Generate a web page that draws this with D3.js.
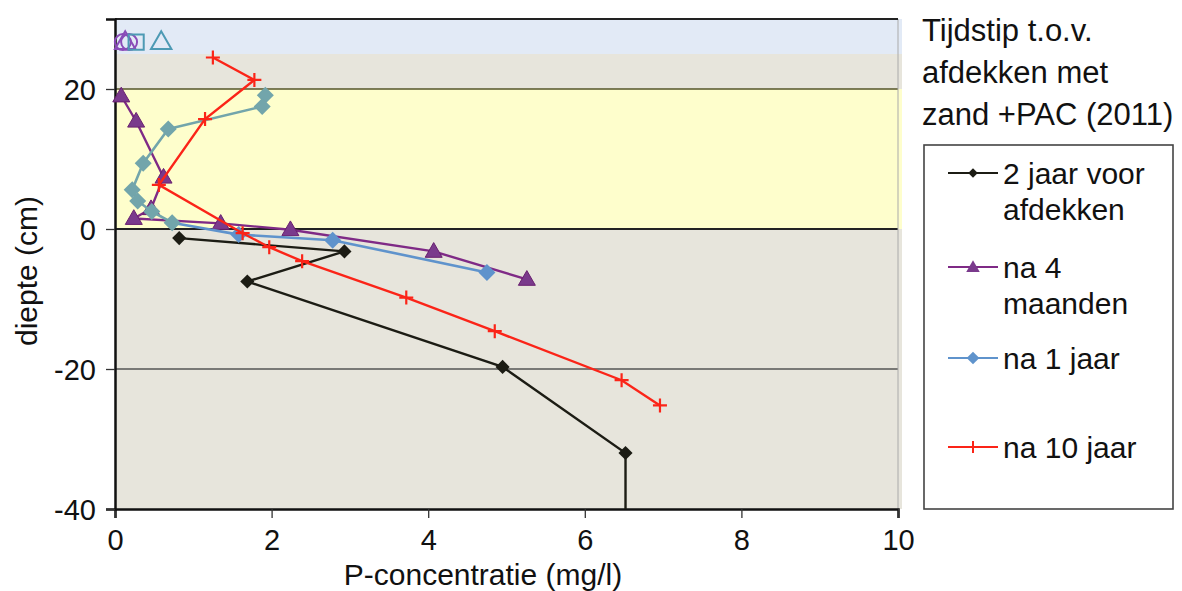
<!DOCTYPE html>
<html>
<head>
<meta charset="utf-8">
<script src="https://cdn.jsdelivr.net/npm/d3@7"></script>
<style>
body { margin: 0; background: #fff; }
text { font-family: Arial, "Liberation Sans", sans-serif; fill: #111; }
</style>
</head>
<body>
<div id="canvas"></div>
<script>
var width = 1182,
	height = 591;

// P-concentratie (mg/l) tegen diepte (cm)
var voor2jaar = [
	[0.82, -1.3], [2.93, -3.2], [1.69, -7.5], [4.95, -19.7], [6.52, -32.0], [6.52, -40.0]
];
var na4maanden = [
	[0.08, 19.0], [0.27, 15.4], [0.62, 7.4], [0.46, 2.9], [0.24, 1.5],
	[1.35, 0.8], [2.24, -0.1], [4.07, -3.2], [5.26, -7.2]
];
var na1jaar = [
	[1.92, 19.1], [1.88, 17.5], [0.68, 14.3], [0.36, 9.4], [0.22, 5.6], [0.29, 4.0],
	[0.47, 2.5], [0.73, 0.9], [1.58, -0.8], [2.78, -1.6], [4.75, -6.2]
];
var na10jaar = [
	[1.25, 24.5], [1.78, 21.3], [1.15, 15.7], [0.56, 6.3], [1.63, -0.6], [1.97, -2.6],
	[2.39, -4.6], [3.72, -9.8], [4.85, -14.6], [6.47, -21.6], [6.96, -25.2]
];
var seriesNames = ['2 jaar voor|afdekken', 'na 4|maanden', 'na 1 jaar', 'na 10 jaar'];
var legendTitle = ['Tijdstip t.o.v.', 'afdekken met', 'zand +PAC (2011)'];
var xTicks = [0, 2, 4, 6, 8, 10];
var yTicks = [-40, -20, 0, 20];
// lagen: water, zand+PAC, sediment
var layers = [[25, 30, 'water'], [20, 25, 'beige'], [0, 20, 'zand'], [-40, 0, 'beige']];
// losse symbolen bovenin (water)
var topSymbols = [[0.1, 'circle'], [0.13, 'triangle'], [0.18, 'circle'], [0.27, 'square'], [0.59, 'triangle']];
var topDepth = 26.7;

var layerColor = { water: '#e2eaf6', beige: '#e7e5dc', zand: '#fefecc' };

var x = d3.scaleLinear().domain([0, 10]).range([115, 898]);
var y = d3.scaleLinear().domain([-40, 30]).range([509, 19]);

var svg = d3.select('#canvas')
	.append('svg')
	.attr('width', width)
	.attr('height', height);

// achtergrondlagen
svg.selectAll('rect.layer')
	.data(layers)
	.enter().append('rect')
	.attr('class', 'layer')
	.attr('x', x(0))
	.attr('y', d => y(d[1]))
	.attr('width', x(10) - x(0) + 4)
	.attr('height', d => y(d[0]) - y(d[1]))
	.attr('fill', d => layerColor[d[2]]);

// horizontale lijnen
svg.selectAll('line.grid')
	.data([20, 0, -20])
	.enter().append('line')
	.attr('x1', x(0)).attr('x2', x(10))
	.attr('y1', d => y(d)).attr('y2', d => y(d))
	.attr('stroke', d => d == 0 ? '#222' : (d == 20 ? '#55552a' : '#555'))
	.attr('stroke-width', d => d == 0 ? 2 : 1.3);

svg.append('line')
	.attr('x1', x(10)).attr('x2', x(10))
	.attr('y1', y(30)).attr('y2', y(-40))
	.attr('stroke', '#aaa').attr('stroke-width', 1);
svg.append('line')
	.attr('x1', x(0)).attr('x2', x(10))
	.attr('y1', y(30)).attr('y2', y(30))
	.attr('stroke', '#222').attr('stroke-width', 2);

// assen
var fmt = d => String(d);
var xAxis = svg.append('g')
	.attr('transform', 'translate(0,' + y(-40) + ')')
	.call(d3.axisBottom(x).tickValues(xTicks).tickFormat(fmt).tickSize(9).tickPadding(11));
var yAxis = svg.append('g')
	.attr('transform', 'translate(' + x(0) + ',0)')
	.call(d3.axisLeft(y).tickValues(yTicks).tickFormat(fmt).tickSize(9).tickPadding(10));

[xAxis, yAxis].forEach(function(a) {
	a.select('.domain').attr('stroke', '#111').attr('stroke-width', 2.5);
	a.selectAll('.tick line').attr('stroke', '#333').attr('stroke-width', 1.3);
	a.selectAll('text').attr('font-size', 29).attr('fill', '#111')
		.attr('font-family', 'Arial, "Liberation Sans", sans-serif');
});
yAxis.selectAll('text').attr('dy', '0.36em');

svg.append('text')
	.attr('x', 483).attr('y', 585)
	.attr('text-anchor', 'middle')
	.attr('font-size', 30)
	.text('P-concentratie (mg/l)');
svg.append('text')
	.attr('transform', 'translate(37,271) rotate(-90)')
	.attr('text-anchor', 'middle')
	.attr('font-size', 30)
	.text('diepte (cm)');

var line = d3.line().x(d => x(d[0])).y(d => y(d[1]));

var purple = '#7f2a86', purpleFill = '#7a3a8c',
	teal = '#72a5ab', blue = '#5f93cc',
	red = '#fb2418', black = '#1c1c14';

function markerPath(type, size) {
	return d3.symbol().type(type).size(size)();
}

// 2 jaar voor afdekken
svg.append('path').attr('d', line(voor2jaar))
	.attr('fill', 'none').attr('stroke', black).attr('stroke-width', 2.4);
svg.selectAll('path.m0')
	.data(voor2jaar.slice(0, -1))
	.enter().append('path')
	.attr('transform', d => 'translate(' + x(d[0]) + ',' + y(d[1]) + ') rotate(45)')
	.attr('d', markerPath(d3.symbolSquare, 100))
	.attr('fill', black);

// na 4 maanden
svg.append('path').attr('d', line(na4maanden))
	.attr('fill', 'none').attr('stroke', purple).attr('stroke-width', 2.4);
svg.selectAll('path.m1')
	.data(na4maanden)
	.enter().append('path')
	.attr('transform', d => 'translate(' + x(d[0]) + ',' + (y(d[1]) + 1) + ')')
	.attr('d', markerPath(d3.symbolTriangle, 125))
	.attr('fill', purpleFill).attr('stroke', '#6a2070').attr('stroke-width', 1);

// na 1 jaar (boven 0 cm blauwgroen)
var segColor = d => d[1] > 0 ? teal : blue;
svg.selectAll('line.s2')
	.data(d3.pairs(na1jaar))
	.enter().append('line')
	.attr('x1', d => x(d[0][0])).attr('y1', d => y(d[0][1]))
	.attr('x2', d => x(d[1][0])).attr('y2', d => y(d[1][1]))
	.attr('stroke', d => segColor(d[1])).attr('stroke-width', 2.6)
	.attr('stroke-linecap', 'round');
svg.selectAll('path.m2')
	.data(na1jaar)
	.enter().append('path')
	.attr('transform', d => 'translate(' + x(d[0]) + ',' + y(d[1]) + ') rotate(45)')
	.attr('d', markerPath(d3.symbolSquare, 145))
	.attr('fill', segColor);

// na 10 jaar
svg.append('path').attr('d', line(na10jaar))
	.attr('fill', 'none').attr('stroke', red).attr('stroke-width', 2.4);
svg.selectAll('path.m3')
	.data(na10jaar)
	.enter().append('path')
	.attr('transform', d => 'translate(' + x(d[0]) + ',' + y(d[1]) + ')')
	.attr('d', 'M-7,0H7M0,-7V7')
	.attr('stroke', red).attr('stroke-width', 2.2).attr('fill', 'none');

// symbolen bovenin
svg.selectAll('path.top')
	.data(topSymbols)
	.enter().append('path')
	.attr('transform', d => 'translate(' + x(d[0]) + ',' + (y(topDepth) + (d[1] == 'triangle' ? 1 : 0)) + ')')
	.attr('d', function(d) {
		if (d[1] == 'circle') return markerPath(d3.symbolCircle, 200);
		if (d[1] == 'square') return markerPath(d3.symbolSquare, 230);
		return markerPath(d3.symbolTriangle, 180);
	})
	.attr('fill', 'none')
	.attr('stroke', (d, i) => i < 3 ? '#8a4cb8' : '#4d9ab4')
	.attr('stroke-width', 2);

// legenda
svg.append('g').selectAll('text')
	.data(legendTitle)
	.enter().append('text')
	.attr('x', 922)
	.attr('y', (d, i) => 41 + i * 42)
	.attr('font-family', 'Lato, "Open Sans", sans-serif')
	.attr('font-size', 31)
	.text(d => d);

svg.append('rect')
	.attr('x', 924).attr('y', 145)
	.attr('width', 249).attr('height', 364)
	.attr('fill', '#fff').attr('stroke', '#444').attr('stroke-width', 1.6);

var legendY = [173, 267, 358, 447];
var legendColor = [black, purple, blue, red];
var items = svg.selectAll('g.item')
	.data(seriesNames)
	.enter().append('g')
	.attr('transform', (d, i) => 'translate(0,' + legendY[i] + ')');
items.append('line')
	.attr('x1', 948).attr('x2', 998)
	.attr('stroke', (d, i) => legendColor[i]).attr('stroke-width', 2);
items.append('path')
	.attr('transform', (d, i) => 'translate(973,' + (i == 1 ? 1 : 0) + ')' + ((i == 0 || i == 2) ? ' rotate(45)' : ''))
	.attr('d', function(d, i) {
		if (i == 0) return markerPath(d3.symbolSquare, 45);
		if (i == 1) return markerPath(d3.symbolTriangle, 80);
		if (i == 2) return markerPath(d3.symbolSquare, 80);
		return 'M-6,0H6M0,-6V6';
	})
	.attr('fill', (d, i) => i == 1 ? purpleFill : legendColor[i])
	.attr('stroke', (d, i) => i == 3 ? red : 'none')
	.attr('stroke-width', 2);
items.each(function(d) {
	var parts = d.split('|');
	d3.select(this).selectAll('text')
		.data(parts)
		.enter().append('text')
		.attr('x', 1003)
		.attr('y', (p, j) => j * 36)
		.attr('dy', '0.36em')
		.attr('font-size', 30)
		.text(p => p);
});
</script>
</body>
</html>
